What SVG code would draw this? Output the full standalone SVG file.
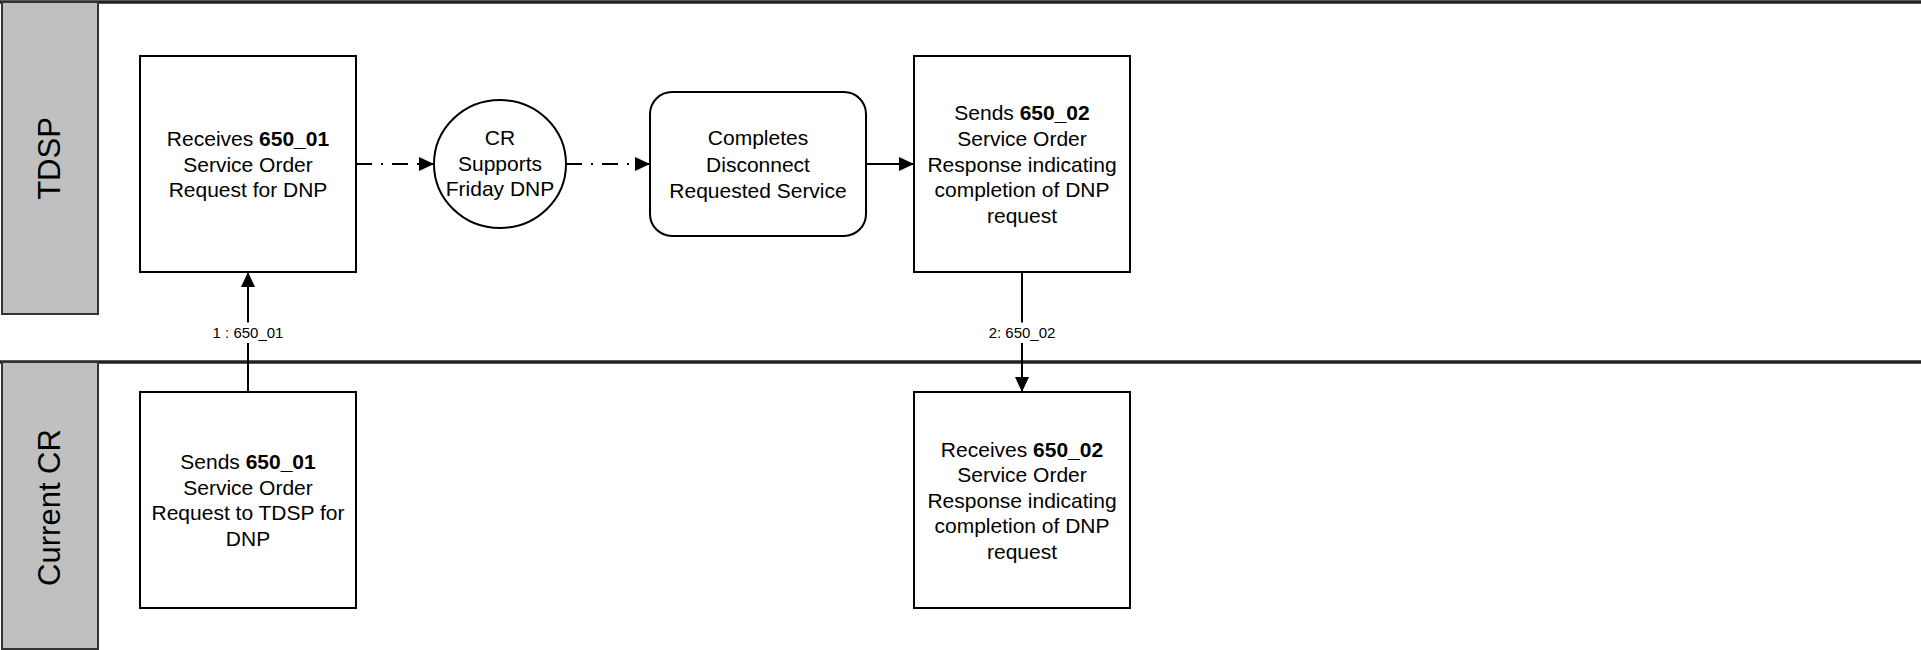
<svg xmlns="http://www.w3.org/2000/svg" width="1921" height="650" viewBox="0 0 1921 650">
<style>
.lane{fill:none;stroke:#222;stroke-width:3.5}
.hdr{fill:#C0C0C0;stroke:#333;stroke-width:2}
.hdrt{font-family:"Liberation Sans",Arial,sans-serif;font-size:31px;fill:#000;text-anchor:middle}
.box{fill:#fff;stroke:#000;stroke-width:2}
.t{font-family:"Liberation Sans",Arial,sans-serif;font-size:21px;fill:#000;text-anchor:middle}
.b{font-weight:bold}
.c{fill:none;stroke:#000;stroke-width:2}
.dd{stroke-dasharray:16 9 2 9}
.lbl{font-family:"Liberation Sans",Arial,sans-serif;font-size:15px;fill:#000;text-anchor:middle}
</style>
<defs>
<marker id="arr" markerUnits="userSpaceOnUse" markerWidth="15" markerHeight="14" refX="15" refY="7" orient="auto">
<path d="M0,0 L15,7 L0,14 z" fill="#000"/>
</marker>
</defs>
<rect x="0" y="0" width="1921" height="650" fill="#fff"/>
<g id="lanes">
<line class="lane" x1="0" y1="2" x2="1921" y2="2"/>
<line class="lane" x1="0" y1="362" x2="1921" y2="362"/>
</g>
<g id="lane-tdsp">
<rect class="hdr" x="2" y="2" width="96" height="312"/>
<text class="hdrt" transform="translate(60,158.5) rotate(-90)">TDSP</text>
</g>
<g id="lane-cr">
<rect class="hdr" x="2" y="362" width="96" height="287"/>
<text class="hdrt" transform="translate(60,507.5) rotate(-90)">Current CR</text>
</g>
<g id="connectors">
<line class="c dd" x1="356" y1="164" x2="434" y2="164" marker-end="url(#arr)"/>
<line class="c dd" x1="566" y1="164" x2="650" y2="164" marker-end="url(#arr)"/>
<line class="c" x1="866" y1="164" x2="914" y2="164" marker-end="url(#arr)"/>
<line class="c" x1="248" y1="392" x2="248" y2="272" marker-end="url(#arr)"/>
<rect x="212" y="322.5" width="72" height="20.5" fill="#fff"/>
<text class="lbl" x="248" y="338">1 : 650_01</text>
<line class="c" x1="1022" y1="272" x2="1022" y2="392" marker-end="url(#arr)"/>
<rect x="986" y="322.5" width="72" height="20.5" fill="#fff"/>
<text class="lbl" x="1022" y="338">2: 650_02</text>
</g>
<g id="n1">
<rect class="box" x="140" y="56" width="216" height="216"/>
<text class="t" x="248" y="145.8">Receives <tspan class="b">650_01</tspan></text>
<text class="t" x="248" y="171.5">Service Order</text>
<text class="t" x="248" y="197.2">Request for DNP</text>
</g>
<g id="n2">
<ellipse class="box" cx="500" cy="164" rx="66" ry="64"/>
<text class="t" x="500" y="145">CR</text>
<text class="t" x="500" y="171">Supports</text>
<text class="t" x="500" y="196">Friday DNP</text>
</g>
<g id="n3">
<rect class="box" x="650" y="92" width="216" height="144" rx="22" ry="22"/>
<text class="t" x="758" y="145.3">Completes</text>
<text class="t" x="758" y="171.5">Disconnect</text>
<text class="t" x="758" y="197.5">Requested Service</text>
</g>
<g id="n4">
<rect class="box" x="914" y="56" width="216" height="216"/>
<text class="t" x="1022" y="120.3">Sends <tspan class="b">650_02</tspan></text>
<text class="t" x="1022" y="145.8">Service Order</text>
<text class="t" x="1022" y="171.5">Response indicating</text>
<text class="t" x="1022" y="197.2">completion of DNP</text>
<text class="t" x="1022" y="222.7">request</text>
</g>
<g id="n5">
<rect class="box" x="140" y="392" width="216" height="216"/>
<text class="t" x="248" y="469.3">Sends <tspan class="b">650_01</tspan></text>
<text class="t" x="248" y="494.8">Service Order</text>
<text class="t" x="248" y="520.3">Request to TDSP for</text>
<text class="t" x="248" y="545.8">DNP</text>
</g>
<g id="n6">
<rect class="box" x="914" y="392" width="216" height="216"/>
<text class="t" x="1022" y="456.5">Receives <tspan class="b">650_02</tspan></text>
<text class="t" x="1022" y="482">Service Order</text>
<text class="t" x="1022" y="507.5">Response indicating</text>
<text class="t" x="1022" y="533">completion of DNP</text>
<text class="t" x="1022" y="558.5">request</text>
</g>
</svg>
